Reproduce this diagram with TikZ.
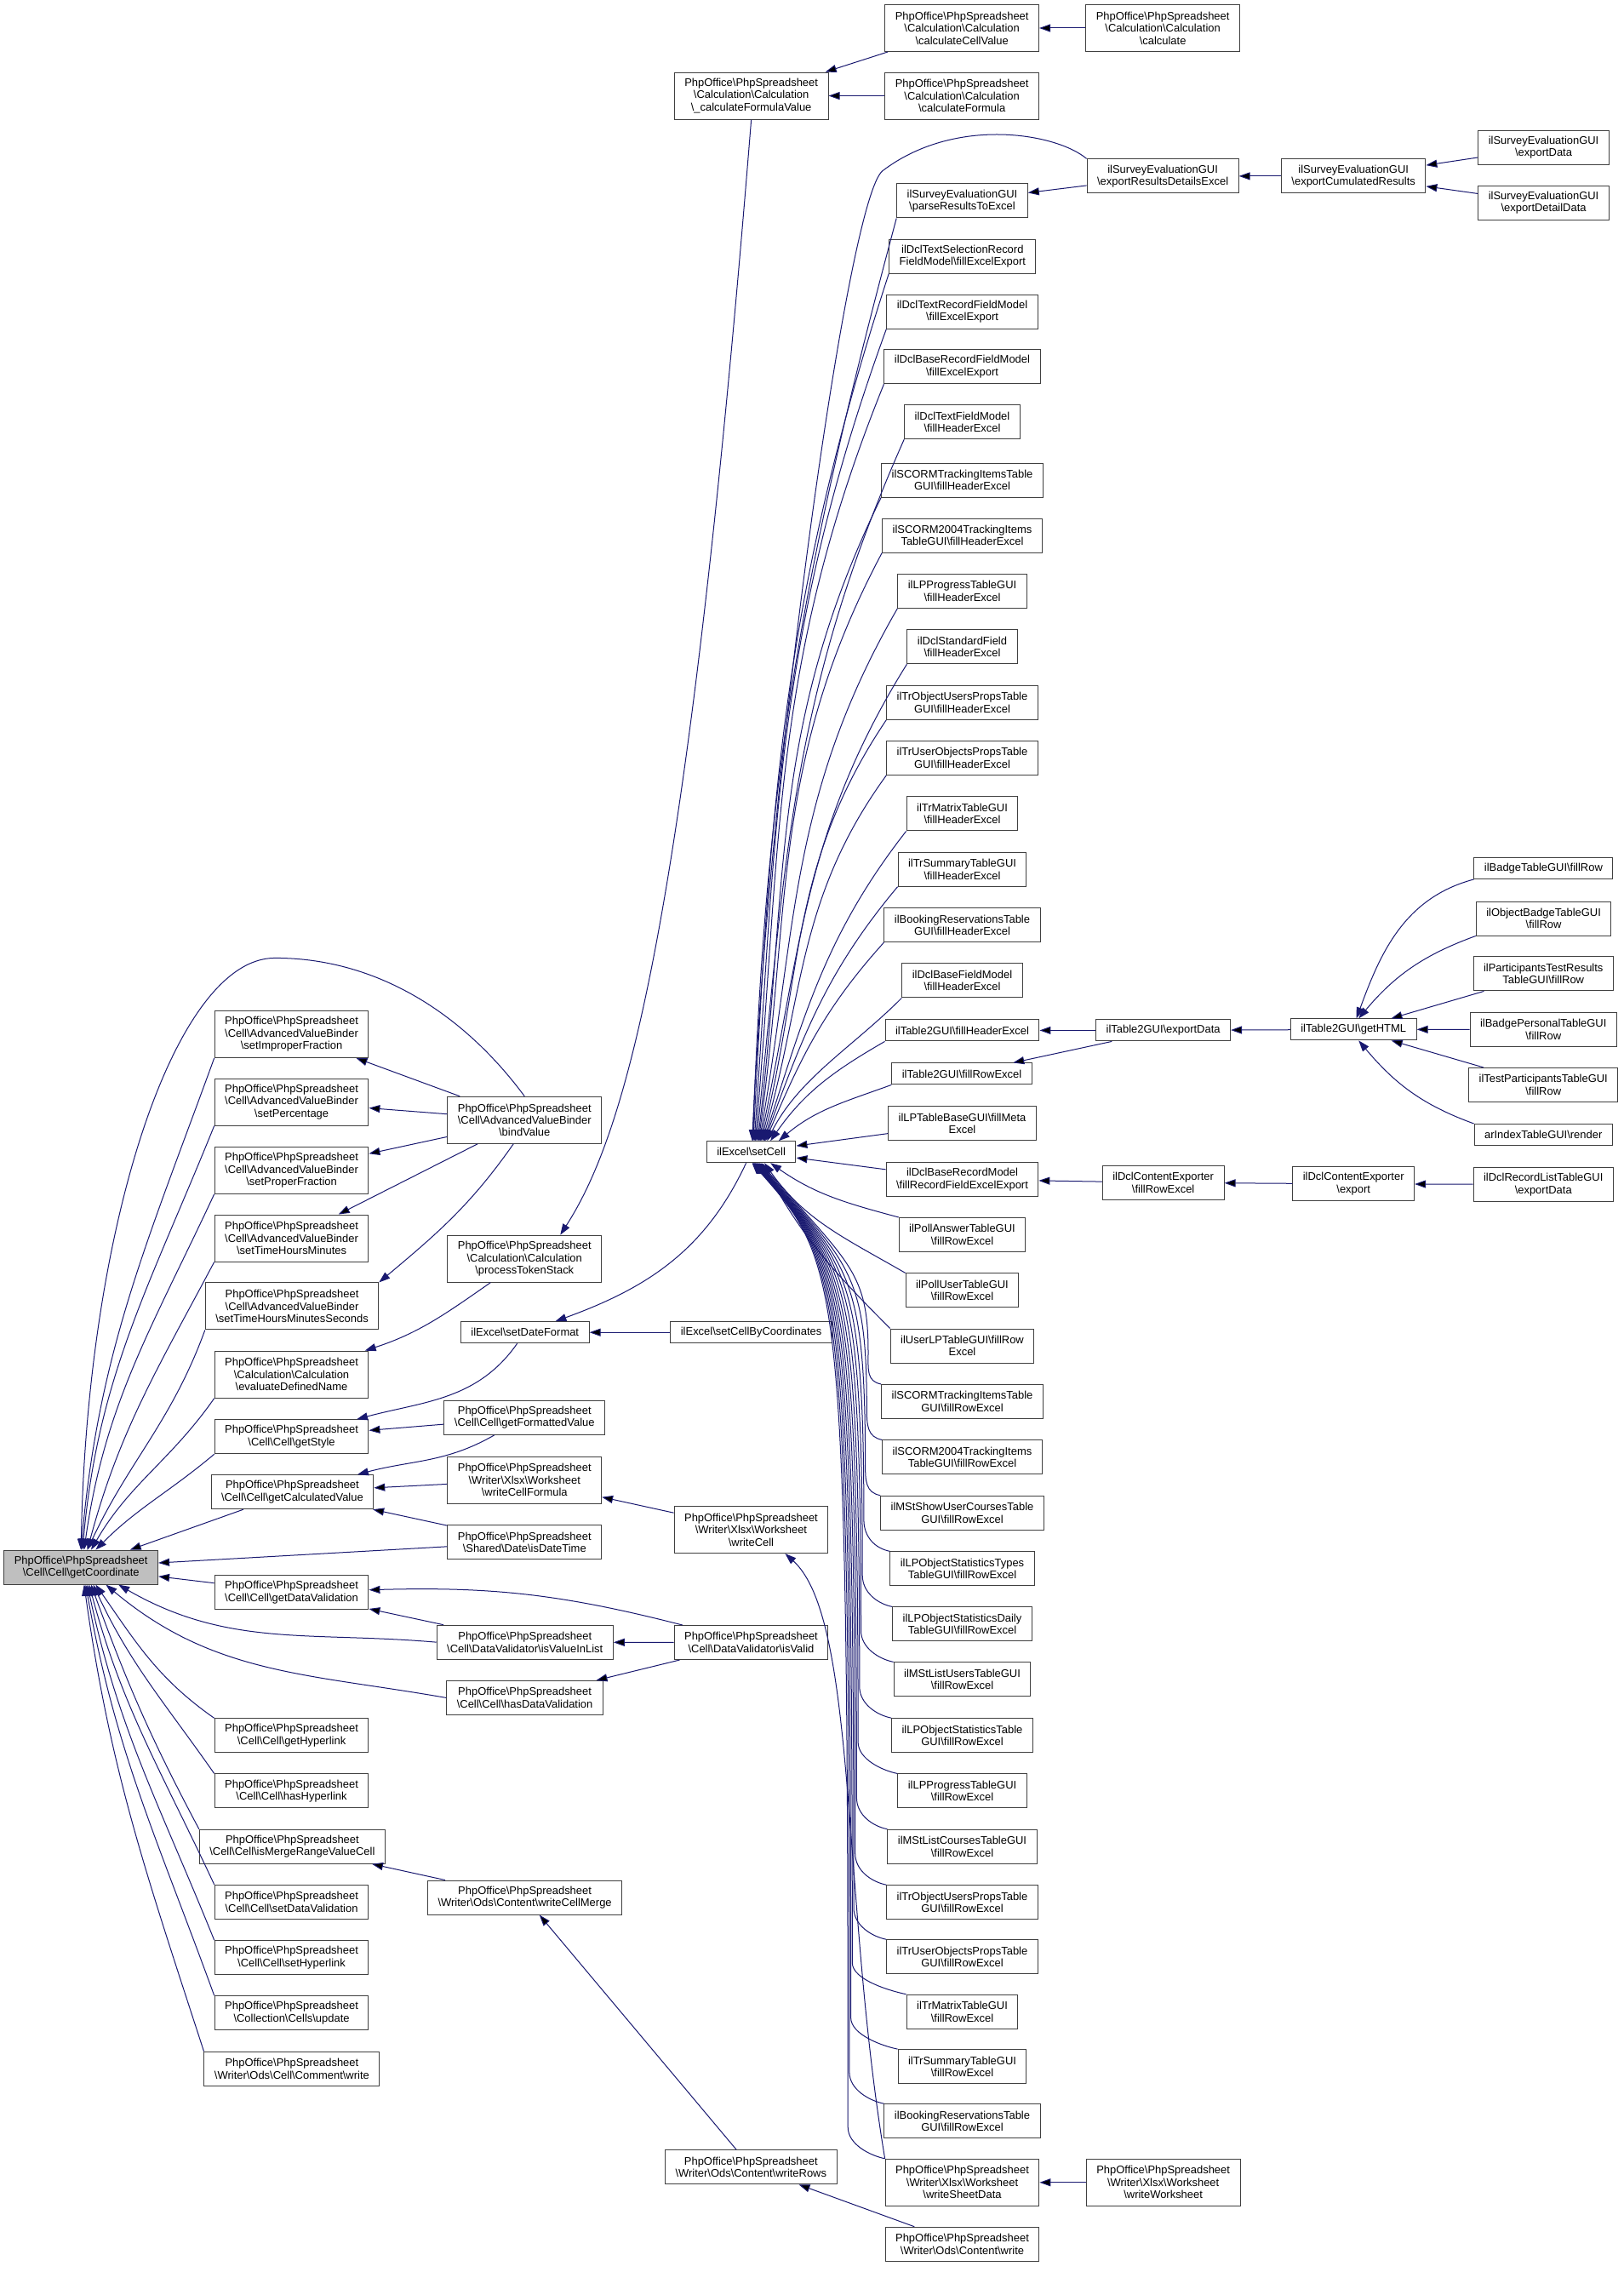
\documentclass[tikz,border=0pt]{standalone}
\usepackage{fontspec}
\setmainfont{Liberation Sans}
\usetikzlibrary{arrows.meta}
\definecolor{edgeblue}{HTML}{191970}
\definecolor{boxline}{HTML}{404040}
\definecolor{rootgray}{HTML}{BFBFBF}
\newcommand{\bsl}{\textbackslash}

\begin{document}
\begin{tikzpicture}[x=1.7bp, y=-1.7bp,
      fnbox/.style={draw=boxline, line width=1bp, fill=white, align=center, inner xsep=12bp, inner ysep=3bp,
        minimum height=25bp, font=\fontsize{13}{14.5}\selectfont},
      fnbox2/.style={fnbox, minimum height=40bp},
      fnbox3/.style={fnbox, minimum height=55bp},
      rootbox/.style={fnbox2, fill=rootgray},
      calls/.style={draw=edgeblue, line width=1bp, -{Triangle[length=13bp,width=9bp]}}]

      \fill[white, use as bounding box] (0,0) rectangle (1122.35,1570);

      \node[rootbox] (root) at (56,1083) {PhpOffice\bsl PhpSpreadsheet\\\bsl Cell\bsl Cell\bsl getCoordinate};

      \node[fnbox3] (improper) at (201.5,714.7) {PhpOffice\bsl PhpSpreadsheet\\\bsl Cell\bsl AdvancedValueBinder\\\bsl setImproperFraction};
      \node[fnbox3] (percentage) at (201.5,761.5) {PhpOffice\bsl PhpSpreadsheet\\\bsl Cell\bsl AdvancedValueBinder\\\bsl setPercentage};
      \node[fnbox3] (proper) at (201.5,808.7) {PhpOffice\bsl PhpSpreadsheet\\\bsl Cell\bsl AdvancedValueBinder\\\bsl setProperFraction};
      \node[fnbox3] (hoursMin) at (201.5,855.6) {PhpOffice\bsl PhpSpreadsheet\\\bsl Cell\bsl AdvancedValueBinder\\\bsl setTimeHoursMinutes};
      \node[fnbox3] (hoursMinSec) at (201.8,902.6) {PhpOffice\bsl PhpSpreadsheet\\\bsl Cell\bsl AdvancedValueBinder\\\bsl setTimeHoursMinutesSeconds};
      \node[fnbox3] (evalName) at (201.5,949.8) {PhpOffice\bsl PhpSpreadsheet\\\bsl Calculation\bsl Calculation\\\bsl evaluateDefinedName};
      \node[fnbox2] (getStyle) at (201.5,992.8) {PhpOffice\bsl PhpSpreadsheet\\\bsl Cell\bsl Cell\bsl getStyle};
      \node[fnbox2] (getCalc) at (202,1031) {PhpOffice\bsl PhpSpreadsheet\\\bsl Cell\bsl Cell\bsl getCalculatedValue};
      \node[fnbox2] (getDataVal) at (201.5,1100.3) {PhpOffice\bsl PhpSpreadsheet\\\bsl Cell\bsl Cell\bsl getDataValidation};
      \node[fnbox2] (getHyper) at (201.5,1199.3) {PhpOffice\bsl PhpSpreadsheet\\\bsl Cell\bsl Cell\bsl getHyperlink};
      \node[fnbox2] (hasHyper) at (201.5,1237.6) {PhpOffice\bsl PhpSpreadsheet\\\bsl Cell\bsl Cell\bsl hasHyperlink};
      \node[fnbox2] (isMerge) at (202,1276) {PhpOffice\bsl PhpSpreadsheet\\\bsl Cell\bsl Cell\bsl isMergeRangeValueCell};
      \node[fnbox2] (setDataVal) at (201.5,1314.3) {PhpOffice\bsl PhpSpreadsheet\\\bsl Cell\bsl Cell\bsl setDataValidation};
      \node[fnbox2] (setHyper) at (201.5,1352.7) {PhpOffice\bsl PhpSpreadsheet\\\bsl Cell\bsl Cell\bsl setHyperlink};
      \node[fnbox2] (cellsUpdate) at (201.5,1391) {PhpOffice\bsl PhpSpreadsheet\\\bsl Collection\bsl Cells\bsl update};
      \node[fnbox2] (commentWrite) at (201.7,1429.5) {PhpOffice\bsl PhpSpreadsheet\\\bsl Writer\bsl Ods\bsl Cell\bsl Comment\bsl write};

      \node[fnbox3] (bindValue) at (362.5,774) {PhpOffice\bsl PhpSpreadsheet\\\bsl Cell\bsl AdvancedValueBinder\\\bsl bindValue};
      \node[fnbox3] (tokenStack) at (362.5,869.8) {PhpOffice\bsl PhpSpreadsheet\\\bsl Calculation\bsl Calculation\\\bsl processTokenStack};
      \node[fnbox] (setDateFormat) at (362.8,920.7) {ilExcel\bsl setDateFormat};
      \node[fnbox2] (getFormatted) at (362.5,979.6) {PhpOffice\bsl PhpSpreadsheet\\\bsl Cell\bsl Cell\bsl getFormattedValue};
      \node[fnbox3] (cellFormula) at (362.5,1022.8) {PhpOffice\bsl PhpSpreadsheet\\\bsl Writer\bsl Xlsx\bsl Worksheet\\\bsl writeCellFormula};
      \node[fnbox2] (isDateTime) at (362.5,1065.7) {PhpOffice\bsl PhpSpreadsheet\\\bsl Shared\bsl Date\bsl isDateTime};
      \node[fnbox2] (isValueInList) at (362.8,1134.8) {PhpOffice\bsl PhpSpreadsheet\\\bsl Cell\bsl DataValidator\bsl isValueInList};
      \node[fnbox2] (hasDataVal) at (362.7,1173.2) {PhpOffice\bsl PhpSpreadsheet\\\bsl Cell\bsl Cell\bsl hasDataValidation};
      \node[fnbox2] (cellMerge) at (362.7,1311.2) {PhpOffice\bsl PhpSpreadsheet\\\bsl Writer\bsl Ods\bsl Content\bsl writeCellMerge};

      \node[fnbox3] (calcFormulaValue) at (519.2,66.2) {PhpOffice\bsl PhpSpreadsheet\\\bsl Calculation\bsl Calculation\\\bsl\_calculateFormulaValue};
      \node[fnbox] (setCell) at (519.2,796) {ilExcel\bsl setCell};
      \node[fnbox] (setCellByCoord) at (519.2,920.7) {ilExcel\bsl setCellByCoordinates};
      \node[fnbox3] (writeCell) at (519.1,1057.1) {PhpOffice\bsl PhpSpreadsheet\\\bsl Writer\bsl Xlsx\bsl Worksheet\\\bsl writeCell};
      \node[fnbox2] (isValid) at (519.1,1135) {PhpOffice\bsl PhpSpreadsheet\\\bsl Cell\bsl DataValidator\bsl isValid};
      \node[fnbox2] (writeRows) at (519,1497.5) {PhpOffice\bsl PhpSpreadsheet\\\bsl Writer\bsl Ods\bsl Content\bsl writeRows};

      \node[fnbox3] (calcCellValue) at (664.8,19.4) {PhpOffice\bsl PhpSpreadsheet\\\bsl Calculation\bsl Calculation\\\bsl calculateCellValue};
      \node[fnbox3] (calcFormula) at (664.8,66.2) {PhpOffice\bsl PhpSpreadsheet\\\bsl Calculation\bsl Calculation\\\bsl calculateFormula};
      \node[fnbox2] (parseResults) at (665,138.8) {ilSurveyEvaluationGUI\\\bsl parseResultsToExcel};
      \node[fnbox2] (textSelExport) at (665.2,177.1) {ilDclTextSelectionRecord\\FieldModel\bsl fillExcelExport};
      \node[fnbox2] (textRecExport) at (665,215.3) {ilDclTextRecordFieldModel\\\bsl fillExcelExport};
      \node[fnbox2] (baseRecFieldExport) at (665,253.4) {ilDclBaseRecordFieldModel\\\bsl fillExcelExport};
      \node[fnbox2] (textFieldHdr) at (665,291.6) {ilDclTextFieldModel\\\bsl fillHeaderExcel};
      \node[fnbox2] (scormHdr) at (665,331.8) {ilSCORMTrackingItemsTable\\GUI\bsl fillHeaderExcel};
      \node[fnbox2] (scorm2004Hdr) at (665,370) {ilSCORM2004TrackingItems\\TableGUI\bsl fillHeaderExcel};
      \node[fnbox2] (lpProgHdr) at (665,408.5) {ilLPProgressTableGUI\\\bsl fillHeaderExcel};
      \node[fnbox2] (stdFieldHdr) at (665,446.9) {ilDclStandardField\\\bsl fillHeaderExcel};
      \node[fnbox2] (trObjUsersHdr) at (665,485.5) {ilTrObjectUsersPropsTable\\GUI\bsl fillHeaderExcel};
      \node[fnbox2] (trUserObjHdr) at (665,523.8) {ilTrUserObjectsPropsTable\\GUI\bsl fillHeaderExcel};
      \node[fnbox2] (trMatrixHdr) at (665,562.3) {ilTrMatrixTableGUI\\\bsl fillHeaderExcel};
      \node[fnbox2] (trSummaryHdr) at (665,600.7) {ilTrSummaryTableGUI\\\bsl fillHeaderExcel};
      \node[fnbox2] (bookingHdr) at (665,639.2) {ilBookingReservationsTable\\GUI\bsl fillHeaderExcel};
      \node[fnbox2] (baseFieldHdr) at (665,677.6) {ilDclBaseFieldModel\\\bsl fillHeaderExcel};
      \node[fnbox] (t2Hdr) at (665,712) {ilTable2GUI\bsl fillHeaderExcel};
      \node[fnbox] (t2Row) at (664.7,742) {ilTable2GUI\bsl fillRowExcel};
      \node[fnbox2] (lpMeta) at (665,776.4) {ilLPTableBaseGUI\bsl fillMeta\\Excel};
      \node[fnbox2] (recordModel) at (665,815) {ilDclBaseRecordModel\\\bsl fillRecordFieldExcelExport};
      \node[fnbox2] (pollAnswer) at (665,853.2) {ilPollAnswerTableGUI\\\bsl fillRowExcel};
      \node[fnbox2] (pollUser) at (665,891.7) {ilPollUserTableGUI\\\bsl fillRowExcel};
      \node[fnbox2] (userLp) at (665,930) {ilUserLPTableGUI\bsl fillRow\\Excel};
      \node[fnbox2] (scormRow) at (665,968.5) {ilSCORMTrackingItemsTable\\GUI\bsl fillRowExcel};
      \node[fnbox2] (scorm2004Row) at (665,1007) {ilSCORM2004TrackingItems\\TableGUI\bsl fillRowExcel};
      \node[fnbox2] (mstShowUser) at (665,1045.4) {ilMStShowUserCoursesTable\\GUI\bsl fillRowExcel};
      \node[fnbox2] (lpObjTypes) at (665,1084) {ilLPObjectStatisticsTypes\\TableGUI\bsl fillRowExcel};
      \node[fnbox2] (lpObjDaily) at (665,1122.3) {ilLPObjectStatisticsDaily\\TableGUI\bsl fillRowExcel};
      \node[fnbox2] (mstListUsers) at (665,1160.5) {ilMStListUsersTableGUI\\\bsl fillRowExcel};
      \node[fnbox2] (lpObjTable) at (665,1199.2) {ilLPObjectStatisticsTable\\GUI\bsl fillRowExcel};
      \node[fnbox2] (lpProgRow) at (665,1237.6) {ilLPProgressTableGUI\\\bsl fillRowExcel};
      \node[fnbox2] (mstListCourses) at (665,1276) {ilMStListCoursesTableGUI\\\bsl fillRowExcel};
      \node[fnbox2] (trObjUsersRow) at (665,1314.5) {ilTrObjectUsersPropsTable\\GUI\bsl fillRowExcel};
      \node[fnbox2] (trUserObjRow) at (665,1352.2) {ilTrUserObjectsPropsTable\\GUI\bsl fillRowExcel};
      \node[fnbox2] (trMatrixRow) at (665,1390.1) {ilTrMatrixTableGUI\\\bsl fillRowExcel};
      \node[fnbox2] (trSummaryRow) at (665,1428) {ilTrSummaryTableGUI\\\bsl fillRowExcel};
      \node[fnbox2] (bookingRow) at (665,1465.7) {ilBookingReservationsTable\\GUI\bsl fillRowExcel};
      \node[fnbox3] (sheetData) at (665,1508.1) {PhpOffice\bsl PhpSpreadsheet\\\bsl Writer\bsl Xlsx\bsl Worksheet\\\bsl writeSheetData};
      \node[fnbox2] (odsWrite) at (665,1550.7) {PhpOffice\bsl PhpSpreadsheet\\\bsl Writer\bsl Ods\bsl Content\bsl write};

      \node[fnbox3] (calculate) at (803.6,19.4) {PhpOffice\bsl PhpSpreadsheet\\\bsl Calculation\bsl Calculation\\\bsl calculate};
      \node[fnbox2] (resultsDetails) at (803.6,121.7) {ilSurveyEvaluationGUI\\\bsl exportResultsDetailsExcel};
      \node[fnbox] (t2Export) at (803.9,712) {ilTable2GUI\bsl exportData};
      \node[fnbox2] (contentFillRow) at (803.9,817.2) {ilDclContentExporter\\\bsl fillRowExcel};
      \node[fnbox3] (writeWorksheet) at (803.9,1508.1) {PhpOffice\bsl PhpSpreadsheet\\\bsl Writer\bsl Xlsx\bsl Worksheet\\\bsl writeWorksheet};

      \node[fnbox2] (cumulated) at (935.4,121.7) {ilSurveyEvaluationGUI\\\bsl exportCumulatedResults};
      \node[fnbox] (getHTML) at (935.4,711.4) {ilTable2GUI\bsl getHTML};
      \node[fnbox2] (contentExport) at (935.4,818.1) {ilDclContentExporter\\\bsl export};

      \node[fnbox2] (surveyExport) at (1066.8,102) {ilSurveyEvaluationGUI\\\bsl exportData};
      \node[fnbox2] (detailData) at (1066.8,140.2) {ilSurveyEvaluationGUI\\\bsl exportDetailData};
      \node[fnbox] (badgeRow) at (1066.7,600) {ilBadgeTableGUI\bsl fillRow};
      \node[fnbox2] (objBadgeRow) at (1066.8,634.7) {ilObjectBadgeTableGUI\\\bsl fillRow};
      \node[fnbox2] (partResultsRow) at (1066.6,672.9) {ilParticipantsTestResults\\TableGUI\bsl fillRow};
      \node[fnbox2] (badgePersRow) at (1066.6,711.3) {ilBadgePersonalTableGUI\\\bsl fillRow};
      \node[fnbox2] (testPartRow) at (1066.6,749.7) {ilTestParticipantsTableGUI\\\bsl fillRow};
      \node[fnbox] (arRender) at (1066.6,784.1) {arIndexTableGUI\bsl render};
      \node[fnbox2] (recordList) at (1066.6,818.5) {ilDclRecordListTableGUI\\\bsl exportData};

      % callers of getCoordinate
      \draw[calls] (bindValue.north) .. controls (320,700) and (260,662) .. (190,662)
        .. controls (120,662) and (60,850) .. (root.north);
      \foreach \n/\o/\i/\a in {improper/250/85/90, percentage/248/85/85, proper/245/82/80,
          hoursMin/242/75/70, hoursMinSec/250/65/70, evalName/235/60/60}
        \draw[calls] (\n.south west) to[out=\o,in=\i] (root.\a);
      \draw[calls] (getStyle.south west) to[out=220,in=45] (root.50);
      \path[calls] (getCalc) edge (root) (isDateTime) edge (root) (getDataVal) edge (root);
      \draw[calls] (isValueInList.west) to[out=175,in=-30] (root.-25);
      \draw[calls] (hasDataVal.west) to[out=170,in=-40] (root.-35);
      \foreach \n/\o/\i/\a in {getHyper/145/-55/-50, hasHyper/125/-65/-55, isMerge/118/-70/-60,
          setDataVal/115/-75/-65, setHyper/112/-78/-70, cellsUpdate/110/-80/-75, commentWrite/108/-82/-80}
        \draw[calls] (\n.north west) to[out=\o,in=\i] (root.\a);

      \path[calls] (bindValue) edge (improper) edge (percentage) edge (proper) edge (hoursMin);
      \draw[calls] (bindValue.-115) to[out=235,in=40] (hoursMinSec.north east);
      \draw[calls] (tokenStack) to[out=215,in=18] (evalName);
      \draw[calls] (setDateFormat) to[out=235,in=15] (getStyle);
      \path[calls] (getFormatted) edge (getStyle);
      \draw[calls] (getFormatted) to[out=210,in=15] (getCalc);
      \path[calls] (cellFormula) edge (getCalc) (isDateTime) edge (getCalc);
      \path[calls] (isValid) edge[bend right=8] (getDataVal) edge (isValueInList) edge (hasDataVal);
      \path[calls] (isValueInList) edge (getDataVal);
      \path[calls] (cellMerge) edge (isMerge);

      \draw[calls] (calcFormulaValue.south) .. controls +(-45,560) and +(45,-70) .. ([xshift=42bp]tokenStack.north);
      \draw[calls] (setCell) to[out=245,in=20] (setDateFormat);
      \path[calls] (setCellByCoord) edge (setDateFormat);
      \path[calls] (writeCell) edge (cellFormula);
      \path[calls] (writeRows) edge (cellMerge);

      \path[calls] (calcCellValue) edge (calcFormulaValue) (calcFormula) edge (calcFormulaValue);
      \path[calls] (calculate) edge (calcCellValue);

      % callers of setCell
      \draw[calls] (resultsDetails.north west) .. controls (730,92) and (660,80) .. (610,118)
        .. controls (585,137.5) and (530,550) .. (setCell.85);
      \foreach \n/\o/\i/\a/\len in {parseResults/255/88/82/428, textSelExport/252/87/80/404,
          textRecExport/250/86/75/378, baseRecFieldExport/248/85/70/354, textFieldHdr/246/84/65/329,
          scormHdr/244/83/60/303, scorm2004Hdr/242/82/57/277, lpProgHdr/240/80/54/253,
          stdFieldHdr/238/78/51/228, trObjUsersHdr/236/76/48/203, trUserObjHdr/234/74/45/178,
          trMatrixHdr/232/72/42/154, trSummaryHdr/230/70/40/130, bookingHdr/228/67/38/106,
          baseFieldHdr/225/63/35/83}
        \draw[calls] (\n.south west) .. controls +(\o:\len bp) and +(\i:\len bp) .. (setCell.\a);
      \draw[calls] (t2Hdr.south west) to[out=210,in=55] (setCell.30);
      \draw[calls] (t2Row.south west) to[out=200,in=40] (setCell.22);
      \path[calls] (lpMeta) edge (setCell) (recordModel) edge (setCell);
      \draw[calls] (pollAnswer.north west) to[out=165,in=-35] (setCell.-30);
      \draw[calls] (pollUser.north west) to[out=150,in=-55] (setCell.-40);
      \draw[calls] (userLp.north west) to[out=135,in=-62] (setCell.-45);
      \foreach \n/\a/\xm/\ym/\up in {scormRow/-50/600/934.7/-55, scorm2004Row/-54/599/973.2/-93.2,
          mstShowUser/-58/598/1011.6/-131.6, lpObjTypes/-61/597/1050.2/-170.2,
          lpObjDaily/-64/596/1088.5/-208.5, mstListUsers/-67/595/1126.7/-246.7,
          lpObjTable/-70/594/1165.4/-285.4, lpProgRow/-72/593/1203.8/-323.8,
          mstListCourses/-74/592/1242.2/-362.2, trObjUsersRow/-76/591/1280.7/-400.7,
          trUserObjRow/-78/590/1318.4/-438.4, trMatrixRow/-80/589/1356.3/-476.3,
          trSummaryRow/-82/588/1394.2/-514.2, bookingRow/-84/587/1431.9/-551.9,
          sheetData/-86/586/1469.9/-589.9}
        \draw[calls] (\n.north west) .. controls +(-10,-2) and +(0,12) .. (\xm,\ym)
          .. controls +(0,\up) and +(62,70) .. (setCell.\a);

      \draw[calls] (sheetData.north west) .. controls +(-30,-180) and +(50,45) .. (writeCell.-35);
      \path[calls] (odsWrite) edge (writeRows);
      \path[calls] (writeWorksheet) edge (sheetData);

      \path[calls] (resultsDetails) edge (parseResults);
      \path[calls] (cumulated) edge (resultsDetails);
      \path[calls] (surveyExport) edge (cumulated) (detailData) edge (cumulated);

      \path[calls] (t2Export) edge (t2Hdr) edge (t2Row);
      \path[calls] (getHTML) edge (t2Export);
      \draw[calls] (badgeRow.south west) to[out=195,in=70] (getHTML.75);
      \draw[calls] (objBadgeRow.south west) to[out=200,in=50] (getHTML.65);
      \path[calls] (partResultsRow) edge (getHTML) (badgePersRow) edge (getHTML) (testPartRow) edge (getHTML);
      \draw[calls] (arRender.north west) to[out=160,in=-50] (getHTML.-65);

      \path[calls] (contentFillRow) edge (recordModel);
      \path[calls] (contentExport) edge (contentFillRow);
      \path[calls] (recordList) edge (contentExport);
\end{tikzpicture}
\end{document}
